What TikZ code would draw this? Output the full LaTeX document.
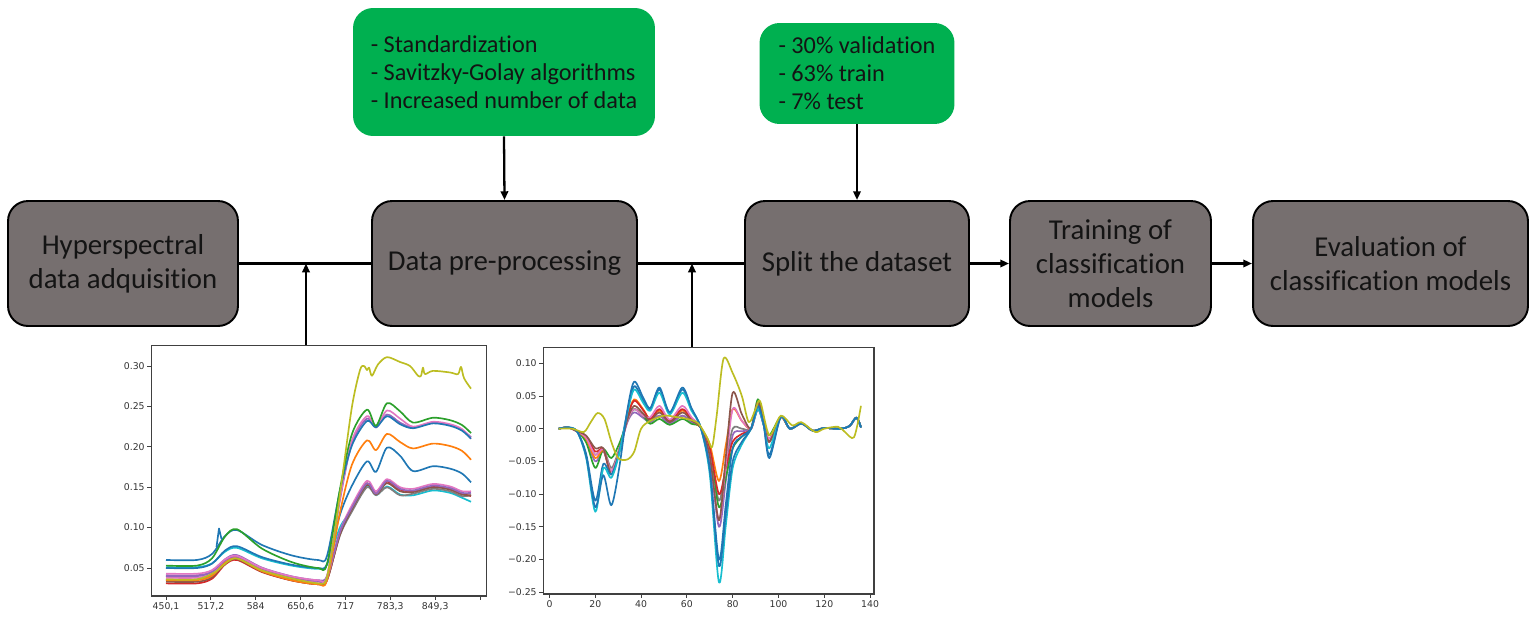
\documentclass[tikz,border=0pt]{standalone}
\usepackage{fontspec}
\setmainfont{Carlito}[Ligatures=NoCommon]
\newfontfamily\tickfont{DejaVu Sans}
\usetikzlibrary{arrows.meta}
\definecolor{boxgray}{RGB}{118,111,111}
\definecolor{boxgreen}{RGB}{0,176,80}
\definecolor{tblue}{HTML}{1F77B4}
\definecolor{torange}{HTML}{FF7F0E}
\definecolor{tgreen}{HTML}{2CA02C}
\definecolor{tred}{HTML}{D62728}
\definecolor{tpurple}{HTML}{9467BD}
\definecolor{tbrown}{HTML}{8C564B}
\definecolor{tpink}{HTML}{E377C2}
\definecolor{tgray}{HTML}{7F7F7F}
\definecolor{tolive}{HTML}{BCBD22}
\definecolor{tcyan}{HTML}{17BECF}
\tikzset{
  stage/.style={draw=black, line width=1.1pt, fill=boxgray, rounded corners=0.4cm,
    align=center, font=\fontsize{16.4}{19.5}\selectfont, text=black!92, inner sep=0pt},
  note/.style={fill=boxgreen, rounded corners=0.4cm, align=left,
    font=\fontsize{13.8}{15.9}\selectfont, text=black!92, inner sep=0pt},
  conn/.style={line width=1.3pt},
  arr/.style={conn, -{Triangle[length=5pt,width=4.2pt]}},
  frame/.style={draw=black!75, line width=0.6pt, inner sep=0pt},
  tickmark/.style={draw=black!75, line width=0.5pt},
  ticklab/.style={font=\tickfont\fontsize{5.3}{6}\selectfont, text=black!80, inner sep=0pt},
  spec/.style={line width=0.95pt, line join=round}
}
% raw spectra: #1 colour, #2 start, #3 bump, #4 valley, #5 first peak, #6 dip, #7 main peak, #8 plateau, #9 end
\newcommand\rawcurve[9]{\draw[spec,#1] plot[smooth] coordinates {(166,#2) (197,#2) (212,{#2+0.2*(#3-#2)}) (225,{#2+0.8*(#3-#2)}) (237,#3) (262,{#3-0.5*(#3-#4)}) (292,{#4+0.15*(#3-#4)}) (318,#4) (327,{#4+0.005}) (340,{0.5*(#4+#5)}) (352,{#5-0.03}) (367,#5) (376,#6) (387,#7) (400,{#7-0.01}) (413,#8) (433,{#8+0.006}) (450,{#8+0.003}) (462,{#8-0.003}) (471,#9)};}
% derivative spectra
\newcommand\dercurve[9]{\draw[spec,#1] plot[smooth] coordinates {(4,0) (8,0.002) (12,-0.004) (16,{0.35*#2}) (20,#2) (23.5,{0.3*(#2+#3)}) (27,#3) (30.5,{0.5*#3}) (34,{0.4*#4}) (37,#4) (41,{0.65*#4}) (44,{0.5*#5}) (48,#5) (52.5,{0.4*#5}) (58,#5) (62,{0.5*#5}) (66,0.002) (70,{0.3*#6}) (74,#6) (77,{0.5*(#6+#7)}) (80,#7) (84,{0.4*#7}) (88,0) (91,#8) (93.5,{0.2*#8}) (96,#9) (101,0.018) (105,0) (110,0.008) (115,-0.003) (120,0.001) (127,0) (131,0.004) (134,0.017) (136,0.002)};}
\begin{document}
\begin{tikzpicture}[x=0.02cm, y=-0.02cm]
\useasboundingbox (0,0) rectangle (1535,620);

% stage boxes
\node[stage, minimum width=4.6cm, minimum height=2.5cm] (hyp) at (123,263.5) {Hyperspectral\\data adquisition};
\node[stage, minimum width=5.3cm, minimum height=2.5cm] (pre) at (504.5,263.5) {Data pre-processing};
\node[stage, minimum width=4.48cm, minimum height=2.5cm] (split) at (857,263.5) {Split the dataset};
\node[stage, minimum width=4.02cm, minimum height=2.5cm] (train) at (1110.5,263.5) {Training of\\classification\\models};
\node[stage, minimum width=5.5cm, minimum height=2.5cm] (eval) at (1390.5,263.5) {Evaluation of\\classification models};

% green notes
\node[note, minimum width=6.04cm, minimum height=2.56cm] (prenote) at (504,72) {- Standardization\\- Savitzky-Golay algorithms\\- Increased number of data};
\node[note, minimum width=3.9cm, minimum height=2.02cm] (splitnote) at (857,73.5) {- 30\% validation\\- 63\% train\\- 7\% test};

% plot frames
\node[frame, minimum width=6.72cm, minimum height=5.02cm] (p1) at (319,470.5) {};
\node[frame, minimum width=6.62cm, minimum height=4.94cm] (p2) at (708.5,470.5) {};

% connectors
\coordinate (j1) at (306,263.5);
\coordinate (j2) at (692,263.5);
\draw[conn] (hyp.east) -- (pre.west);
\draw[conn] (pre.east) -- (split.west);
\draw[arr] (split.east) -- (train.west);
\draw[arr] (train.east) -- (eval.west);
\draw[arr] (prenote.south) -- (pre.north);
\draw[arr] (splitnote.south) -- (split.north);
\draw[arr] (p1.north -| j1) -- (j1);
\draw[arr] (p2.north -| j2) -- (j2);

% ---- plot 1 axes
\foreach \v in {0.30,0.25,0.20,0.15,0.10,0.05}{
  \draw[tickmark] (147,{608.4-808*\v}) -- (151,{608.4-808*\v});
  \node[ticklab, anchor=east] at (145,{608.4-808*\v}) {\v};
}
\foreach \x/\l in {166/{450,1},210.9/{517,2},255.7/584,300.6/{650,6},345.4/717,390.3/{783,3},435.1/{849,3},480/{}}{
  \draw[tickmark] (\x,596) -- (\x,600);
  \node[ticklab, anchor=north] at (\x,602) {\l};
}
\begin{scope}[shift={(0,608.4)}, yscale=-808]
  \rawcurve{tcyan}{0.051}{0.075}{0.049}{0.152}{0.140}{0.151}{0.140}{0.132}
  \rawcurve{tred}{0.031}{0.060}{0.030}{0.155}{0.142}{0.157}{0.145}{0.139}
  \rawcurve{tgray}{0.036}{0.062}{0.031}{0.150}{0.140}{0.150}{0.142}{0.140}
  \rawcurve{tbrown}{0.033}{0.061}{0.030}{0.153}{0.141}{0.155}{0.144}{0.140}
  \rawcurve{tpink}{0.038}{0.063}{0.033}{0.158}{0.145}{0.160}{0.148}{0.145}
  \rawcurve{tpurple}{0.040}{0.066}{0.035}{0.155}{0.142}{0.158}{0.146}{0.143}
  \rawcurve{tblue}{0.050}{0.077}{0.050}{0.182}{0.169}{0.199}{0.170}{0.156}
  \rawcurve{torange}{0.035}{0.062}{0.030}{0.208}{0.196}{0.216}{0.198}{0.184}
  \rawcurve{tpurple}{0.041}{0.064}{0.034}{0.235}{0.224}{0.240}{0.224}{0.212}
  \rawcurve{tpink}{0.043}{0.065}{0.035}{0.238}{0.224}{0.245}{0.225}{0.210}
  \rawcurve{tblue}{0.060}{0.097}{0.060}{0.232}{0.224}{0.238}{0.223}{0.210}
  \rawcurve{tgreen}{0.053}{0.098}{0.050}{0.246}{0.226}{0.254}{0.230}{0.217}
  \draw[spec,tblue] (216.5,0.076) -- (219,0.099) -- (221.5,0.086);
  \draw[spec,tolive] plot[smooth] coordinates {(166,0.036) (197,0.036) (215,0.045) (235,0.062) (262,0.047) (292,0.037) (318,0.031) (326,0.035) (333,0.08) (342,0.16) (352,0.25) (360,0.295) (364,0.3) (367,0.295) (369,0.298) (372,0.288) (378,0.302) (387,0.311) (400,0.305) (410,0.3) (418,0.288) (421,0.288) (423,0.298) (425,0.29) (433,0.294) (450,0.292) (458,0.29) (461,0.299) (464,0.285) (471,0.272)};
\end{scope}

% ---- plot 2 axes
\foreach \v/\l in {0.10/0.10,0.05/0.05,0.00/0.00,-0.05/{\char"2212 0.05},-0.10/{\char"2212 0.10},-0.15/{\char"2212 0.15},-0.20/{\char"2212 0.20},-0.25/{\char"2212 0.25}}{
  \draw[tickmark] (539,{428.7-654*\v}) -- (543,{428.7-654*\v});
  \node[ticklab, anchor=east] at (537,{428.7-654*\v}) {\l};
}
\foreach \t in {0,20,40,60,80,100,120,140}{
  \draw[tickmark] ({549.5+2.29*\t},594) -- ({549.5+2.29*\t},598);
  \node[ticklab, anchor=north] at ({549.5+2.29*\t},600) {\t};
}
\begin{scope}[shift={(549.5,428.7)}, xscale=2.29, yscale=-654]
  \dercurve{tgray}{-0.040}{-0.060}{0.030}{0.020}{-0.110}{0.000}{0.035}{-0.020}
  \dercurve{tpurple}{-0.050}{-0.065}{0.025}{0.020}{-0.150}{-0.010}{0.030}{-0.020}
  \dercurve{tgreen}{-0.060}{-0.045}{0.030}{0.015}{-0.120}{-0.030}{0.045}{-0.010}
  \dercurve{torange}{-0.045}{-0.065}{0.045}{0.028}{-0.080}{0.030}{0.040}{-0.015}
  \dercurve{tred}{-0.035}{-0.070}{0.043}{0.030}{-0.100}{-0.020}{0.040}{-0.020}
  \dercurve{tpink}{-0.040}{-0.065}{0.030}{0.035}{-0.140}{0.030}{0.030}{-0.015}
  \dercurve{tbrown}{-0.030}{-0.070}{0.035}{0.025}{-0.140}{0.055}{0.040}{-0.020}
  \dercurve{tblue}{-0.110}{-0.070}{0.065}{0.060}{-0.200}{-0.030}{0.030}{-0.040}
  \dercurve{tcyan}{-0.127}{-0.075}{0.060}{0.055}{-0.235}{-0.060}{0.030}{-0.030}
  \dercurve{tblue}{-0.120}{-0.117}{0.072}{0.063}{-0.210}{-0.050}{0.035}{-0.045}
  \draw[spec,tolive] plot[smooth] coordinates {(4,0) (10,0) (15,-0.005) (18,0.01) (21,0.024) (24,0.015) (27,-0.02) (30,-0.045) (34,-0.047) (37,-0.035) (40,0.0) (44,0.012) (50,0.02) (55,0.018) (60,0.015) (65,0.008) (69,-0.015) (71,-0.028) (73,0.02) (76,0.107) (80,0.085) (84,0.05) (87,0.01) (90,0.03) (92,0.042) (96,-0.01) (101,0.02) (106,0.005) (110,0.01) (116,-0.005) (120,0.0) (126,0.003) (129,-0.005) (133,-0.013) (136,0.035)};
\end{scope}
\end{tikzpicture}
\end{document}
